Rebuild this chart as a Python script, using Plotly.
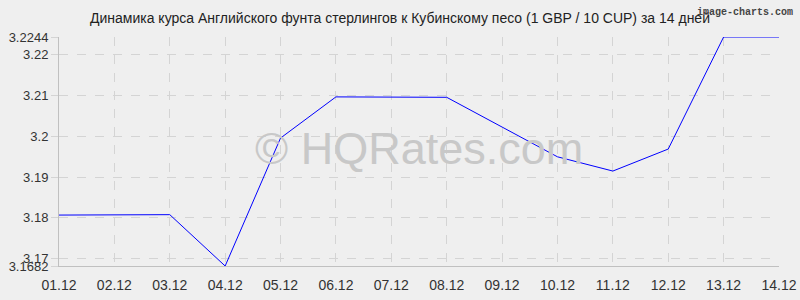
import plotly.graph_objects as go

dates = ["01.12", "02.12", "03.12", "04.12", "05.12", "06.12", "07.12",
         "08.12", "09.12", "10.12", "11.12", "12.12", "13.12", "14.12"]
rates = [3.1807, 3.1807, 3.1808, 3.1682, 3.1996, 3.2097, 3.2096,
         3.2096, 3.2023, 3.1950, 3.1915, 3.1969, 3.2244, 3.2244]
y_ticks = [3.1682, 3.17, 3.18, 3.19, 3.2, 3.21, 3.22, 3.2244]
y_labels = ["3.1682", "3.17", "3.18", "3.19", "3.2", "3.21", "3.22", "3.2244"]

x_idx = list(range(len(dates)))

fig = go.Figure()
fig.add_trace(go.Scatter(x=x_idx, y=rates, mode="lines",
                         line=dict(color="#0000ff", width=1),
                         hoverinfo="skip"))

font_family = "Liberation Sans, Arial, sans-serif"
fig.update_layout(
    width=800, height=300,
    margin=dict(l=59, r=21, t=37, b=34, autoexpand=False),
    paper_bgcolor="#efefef", plot_bgcolor="#efefef",
    showlegend=False,
    font=dict(family=font_family, size=12, color="#333333"),
    title=dict(text="Динамика курса Английского фунта стерлингов к Кубинскому песо (1 GBP / 10 CUP) за 14 дней",
               x=0.5, xanchor="center", y=1 - 18/300, yanchor="middle",
               font=dict(size=14, color="#222222", family=font_family)),
)
fig.update_xaxes(
    range=[0, 13], tickmode="array", tickvals=x_idx, ticktext=dates,
    showgrid=True, gridcolor="#d4d4d4", griddash="dash", gridwidth=1,
    zeroline=False, showline=True, linecolor="#c0c0c0", linewidth=1,
    ticks="outside", ticklen=6, tickcolor="#efefef", automargin=False,
    tickfont=dict(size=14, color="#333333"),
)
fig.update_yaxes(
    range=[3.1682, 3.2244], tickmode="array", tickvals=y_ticks, ticktext=y_labels,
    showgrid=True, gridcolor="#d4d4d4", griddash="dash", gridwidth=1,
    zeroline=False, showline=True, linecolor="#c0c0c0", linewidth=1,
    ticks="outside", ticklen=7, tickcolor="#d4d4d4", automargin=False,
    tickfont=dict(size=13, color="#333333"),
)
fig.add_annotation(text="© HQRates.com", xref="paper", yref="paper",
                   x=0.5, y=0.515, showarrow=False,
                   font=dict(size=45, color="#c8c8c8", family=font_family))
fig.add_annotation(text="<b>image-charts.com</b>", xref="paper", yref="paper",
                   x=1 + 16/720, y=1 + 25/229, xanchor="right", yanchor="middle",
                   showarrow=False,
                   font=dict(size=10, color="#444444", family="Liberation Mono, DejaVu Sans Mono, monospace"))

fig.write_html("out.html")
